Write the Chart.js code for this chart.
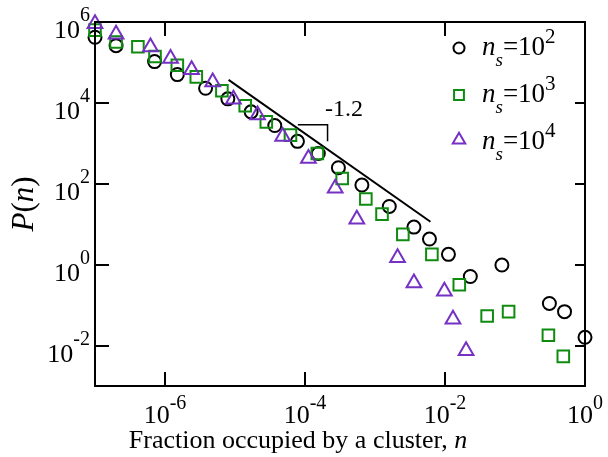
<!DOCTYPE html>
<html><head><meta charset="utf-8">
<script src="https://cdn.jsdelivr.net/npm/chart.js@4.4.1/dist/chart.umd.min.js"></script>
<style>html,body{margin:0;padding:0;background:#fff}#wrap{width:608px;height:457px}</style>
</head><body><div id="wrap"><canvas id="c" width="608" height="457"></canvas></div>
<script>
// ---- data ----
const ns2X = [1.0e-7, 2.0e-7, 7.1e-7, 1.5e-6, 3.8e-6, 7.9e-6, 1.7e-5, 3.7e-5, 7.8e-5, 1.55e-4, 3.0e-4, 6.5e-4, 1.6e-3, 3.6e-3, 6.0e-3, 1.12e-2, 2.3e-2, 6.5e-2, 0.31, 0.51, 1.0];
const ns2Y = [4.2e5, 2.6e5, 1.05e5, 5.0e4, 2.3e4, 1.26e4, 6.0e3, 2.75e3, 1.12e3, 5.6e2, 2.5e2, 93, 27.5, 8.5, 4.3, 1.8, 0.51, 0.98, 0.11, 0.069, 0.016];
const ns3X = [1.0e-7, 2.0e-7, 4.1e-7, 7.2e-7, 1.5e-6, 2.8e-6, 6.5e-6, 1.4e-5, 2.8e-5, 6.2e-5, 1.5e-4, 3.4e-4, 7.4e-4, 1.26e-3, 2.5e-3, 6.5e-3, 1.6e-2, 4.0e-2, 8.1e-2, 0.30, 0.49];
const ns3Y = [6.3e5, 3.2e5, 2.45e5, 1.4e5, 8.5e4, 4.4e4, 2.0e4, 8.5e3, 3.4e3, 1.6e3, 5.6e2, 1.35e2, 42, 17.8, 5.6, 1.8, 0.32, 0.054, 0.069, 0.018, 0.0054];
const ns4X = [1.0e-7, 2.0e-7, 6.2e-7, 1.2e-6, 2.4e-6, 4.8e-6, 9.5e-6, 2.1e-5, 4.8e-5, 1.12e-4, 2.7e-4, 5.5e-4, 2.1e-3, 3.6e-3, 9.8e-3, 1.3e-2, 2.0e-2];
const ns4Y = [9.1e5, 5.0e5, 2.4e5, 1.26e5, 6.6e4, 3.3e4, 1.23e4, 5.0e3, 1.48e3, 4.2e2, 78, 13.2, 1.48, 0.35, 0.22, 0.045, 0.0074];
const fitX = [8.1e-6, 6.2e-3];
const fitY = [3.7e4, 11.5];
const slopeX = [7.9e-5, 2.1e-4, 2.1e-4];
const slopeY = [2.9e3, 2.9e3, 1.12e3];
const slopeLabel = '-1.2';
const xTickExps = ['-6', '-4', '-2', '0'];
const yTickExps = ['-2', '0', '2', '4', '6'];
const legendExps = ['2', '3', '4'];

const FONT = "'Liberation Serif', 'Times New Roman', serif";
const GREEN = '#0f8c0f';
const PURPLE = '#7530c4';

function pts(xs, ys) { return xs.map((x, i) => ({x: x, y: ys[i]})); }

function drawPow(ctx, base, exp, x, y, align, bf, ef, raise) {
  ctx.font = bf + 'px ' + FONT;
  const wb = ctx.measureText(base).width;
  ctx.font = ef + 'px ' + FONT;
  const we = ctx.measureText(exp).width;
  const w = wb + we;
  let x0 = x;
  if (align === 'center') x0 = x - w / 2;
  else if (align === 'right') x0 = x - w;
  ctx.textAlign = 'left';
  ctx.textBaseline = 'alphabetic';
  ctx.font = bf + 'px ' + FONT;
  ctx.fillText(base, x0, y);
  ctx.font = ef + 'px ' + FONT;
  ctx.fillText(exp, x0 + wb, y - raise);
}

const decor = {
  id: 'decor',
  afterDatasetsDraw(chart) {
    const ctx = chart.ctx;
    const a = chart.chartArea;
    const xs = chart.scales.x, ys = chart.scales.y;
    ctx.save();
    ctx.strokeStyle = '#000';
    ctx.fillStyle = '#000';
    ctx.lineWidth = 2;
    ctx.strokeRect(a.left, a.top, a.right - a.left, a.bottom - a.top);
    // ticks
    ctx.beginPath();
    xTickExps.forEach(e => {
      const px = Math.round(xs.getPixelForValue(Math.pow(10, Number(e))));
      ctx.moveTo(px, a.bottom); ctx.lineTo(px, a.bottom - 14);
      ctx.moveTo(px, a.top); ctx.lineTo(px, a.top + 14);
    });
    yTickExps.forEach(e => {
      const py = Math.round(ys.getPixelForValue(Math.pow(10, Number(e))));
      ctx.moveTo(a.left, py); ctx.lineTo(a.left + 14, py);
      ctx.moveTo(a.right, py); ctx.lineTo(a.right - 10, py);
    });
    ctx.stroke();
    // tick labels
    xTickExps.forEach(e => {
      const px = xs.getPixelForValue(Math.pow(10, Number(e)));
      drawPow(ctx, '10', e, px, a.bottom + 37, 'center', 26, 20, 14);
    });
    yTickExps.forEach(e => {
      const py = ys.getPixelForValue(Math.pow(10, Number(e)));
      drawPow(ctx, '10', e, a.left - 5, py + 16, 'right', 26, 20, 17);
    });
    // axis titles
    ctx.textBaseline = 'alphabetic';
    ctx.textAlign = 'left';
    const t1 = 'Fraction occupied by a cluster, ';
    ctx.font = '26px ' + FONT;
    const w1 = ctx.measureText(t1).width;
    ctx.font = 'italic 26px ' + FONT;
    const w2 = ctx.measureText('n').width;
    const tx = 298 - (w1 + w2) / 2;
    ctx.font = '26px ' + FONT;
    ctx.fillText(t1, tx, 448);
    ctx.font = 'italic 26px ' + FONT;
    ctx.fillText('n', tx + w1, 448);

    ctx.save();
    ctx.translate(33, 204);
    ctx.rotate(-Math.PI / 2);
    const parts = [['P', 'italic '], ['(', ''], ['n', 'italic '], [')', '']];
    let tw = 0;
    parts.forEach(p => { ctx.font = p[1] + '31px ' + FONT; tw += ctx.measureText(p[0]).width; });
    let cx = -tw / 2;
    parts.forEach(p => { ctx.font = p[1] + '31px ' + FONT; ctx.fillText(p[0], cx, 0); cx += ctx.measureText(p[0]).width; });
    ctx.restore();

    // slope label
    ctx.font = '24px ' + FONT;
    ctx.fillText(slopeLabel, 325, 116);

    // legend
    const rows = [55, 102, 149];
    const mk = [48, 95, 140];
    [0, 1, 2].forEach((di, i) => {
      const d = chart.data.datasets[di];
      ctx.save();
      ctx.strokeStyle = d.borderColor;
      ctx.lineWidth = 2;
      ctx.fillStyle = 'rgba(0,0,0,0)';
      Chart.helpers.drawPoint(ctx, {pointStyle: d.pointStyle, radius: d.pointRadius * 0.85, borderWidth: 2, rotation: 0}, 459, mk[i]);
      ctx.restore();
      ctx.fillStyle = '#000';
      let x = 482;
      const b = rows[i];
      ctx.font = 'italic 27px ' + FONT;
      ctx.fillText('n', x, b); x += ctx.measureText('n').width;
      ctx.font = 'italic 19px ' + FONT;
      ctx.fillText('s', x, b + 11); x += ctx.measureText('s').width;
      ctx.font = '27px ' + FONT;
      ctx.fillText('=10', x, b); x += ctx.measureText('=10').width;
      ctx.font = '21px ' + FONT;
      ctx.fillText(legendExps[i], x, b - 12);
    });
    ctx.restore();
  }
};

new Chart(document.getElementById('c'), {
  type: 'scatter',
  data: {
    datasets: [
      {label: 'ns=10^2', data: pts(ns2X, ns2Y), pointStyle: 'circle', pointRadius: 6.5, borderColor: '#000', backgroundColor: 'rgba(0,0,0,0)', borderWidth: 2, clip: false, order: 3},
      {label: 'ns=10^3', data: pts(ns3X, ns3Y), pointStyle: 'rect', pointRadius: 8.2, borderColor: GREEN, backgroundColor: 'rgba(0,0,0,0)', borderWidth: 2, clip: false, order: 2},
      {label: 'ns=10^4', data: pts(ns4X, ns4Y), pointStyle: 'triangle', pointRadius: 8.5, borderColor: PURPLE, backgroundColor: 'rgba(0,0,0,0)', borderWidth: 2, clip: false, order: 1},
      {type: 'line', label: 'fit', data: pts(fitX, fitY), borderColor: '#000', borderWidth: 2, pointRadius: 0, showLine: true, fill: false, order: 4},
      {type: 'line', label: 'slope', data: pts(slopeX, slopeY), borderColor: '#000', borderWidth: 1.5, pointRadius: 0, showLine: true, fill: false, tension: 0, order: 5}
    ]
  },
  options: {
    responsive: false,
    animation: false,
    devicePixelRatio: 1,
    layout: {padding: {left: 95, right: 23, top: 22, bottom: 71}},
    plugins: {legend: {display: false}, tooltip: {enabled: false}},
    scales: {
      x: {type: 'logarithmic', min: 1e-7, max: 1, display: false},
      y: {type: 'logarithmic', min: 1e-3, max: 1e6, display: false}
    }
  },
  plugins: [decor]
});
</script>
</body></html>
